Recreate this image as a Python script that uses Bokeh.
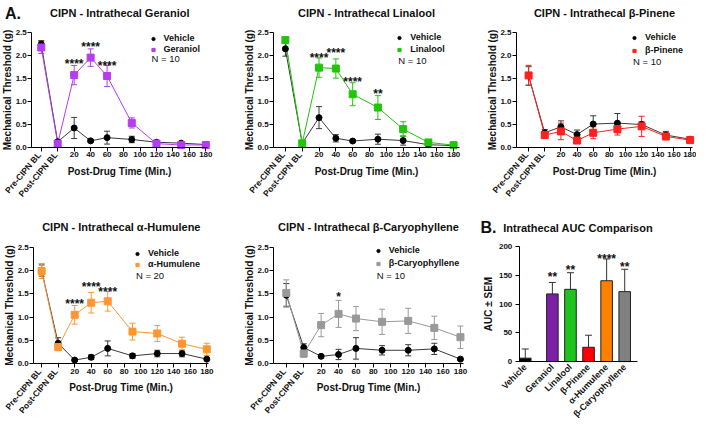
import math
from bokeh.plotting import figure
from bokeh.models import (ColumnDataSource, Whisker, TeeHead, Label, Legend, LegendItem,
                          FixedTicker, Range1d, NumeralTickFormatter)
from bokeh.layouts import row, column
from bokeh.embed import file_html
from bokeh.resources import INLINE
from bokeh.core.properties import value

FONT = "Liberation Sans"
INK = "#111111"

# ---------------- data ----------------
baseline_labels = ["Pre-CIPN BL", "Post-CIPN BL"]
time_x = [-20, 0, 20, 40, 60, 90, 120, 150, 180]   # -20 / 0 = baseline slots
time_ticks = [-20, 0, 20, 40, 60, 80, 100, 120, 140, 160, 180]
y_ticks = [0, 0.5, 1.0, 1.5, 2.0, 2.5]

ger_veh_mean = [2.24, 0.12, 0.42, 0.14, 0.21, 0.17, 0.11, 0.09, 0.06]
ger_veh_sem = [0.08, 0.03, 0.23, 0.03, 0.14, 0.07, 0.03, 0.03, 0.02]
ger_mean = [2.17, 0.08, 1.57, 1.95, 1.55, 0.53, 0.08, 0.05, 0.05]
ger_sem = [0.13, 0.03, 0.21, 0.19, 0.23, 0.11, 0.02, 0.02, 0.02]
ger_star_x = [20, 40, 60]
ger_star_y = [1.94, 2.32, 1.91]
ger_star_t = ["****", "****", "****"]

lin_veh_mean = [2.14, 0.08, 0.64, 0.19, 0.13, 0.17, 0.14, 0.05, 0.03]
lin_veh_sem = [0.16, 0.02, 0.24, 0.08, 0.03, 0.11, 0.10, 0.02, 0.02]
lin_mean = [2.33, 0.08, 1.73, 1.71, 1.15, 0.86, 0.39, 0.10, 0.04]
lin_sem = [0.05, 0.02, 0.21, 0.21, 0.25, 0.26, 0.16, 0.03, 0.02]
lin_star_x = [20, 40, 60, 90]
lin_star_y = [2.07, 2.19, 1.55, 1.30]
lin_star_t = ["****", "****", "****", "**"]

pin_veh_mean = [1.55, 0.31, 0.44, 0.27, 0.50, 0.52, 0.49, 0.26, 0.17]
pin_veh_sem = [0.20, 0.07, 0.13, 0.10, 0.18, 0.21, 0.06, 0.08, 0.03]
pin_mean = [1.56, 0.26, 0.34, 0.14, 0.31, 0.39, 0.45, 0.23, 0.15]
pin_sem = [0.22, 0.06, 0.18, 0.05, 0.13, 0.13, 0.22, 0.07, 0.03]

hum_veh_mean = [2.00, 0.44, 0.08, 0.14, 0.33, 0.17, 0.22, 0.22, 0.10]
hum_veh_sem = [0.12, 0.12, 0.02, 0.05, 0.16, 0.05, 0.07, 0.07, 0.02]
hum_mean = [1.99, 0.36, 1.05, 1.31, 1.34, 0.69, 0.65, 0.43, 0.31]
hum_sem = [0.16, 0.08, 0.20, 0.22, 0.21, 0.18, 0.17, 0.14, 0.13]
hum_star_x = [20, 40, 60]
hum_star_y = [1.41, 1.79, 1.67]
hum_star_t = ["****", "****", "****"]

car_veh_mean = [1.47, 0.35, 0.16, 0.20, 0.33, 0.29, 0.29, 0.32, 0.10]
car_veh_sem = [0.25, 0.08, 0.04, 0.11, 0.23, 0.10, 0.12, 0.12, 0.02]
car_mean = [1.52, 0.22, 0.83, 1.07, 0.97, 0.90, 0.92, 0.77, 0.57]
car_sem = [0.28, 0.08, 0.25, 0.29, 0.26, 0.27, 0.27, 0.25, 0.24]
car_star_x = [40]
car_star_y = [1.56]
car_star_t = ["*"]

auc_groups = ["Vehicle", "Geraniol", "Linalool", "β-Pinene", "α-Humulene", "β-Caryophyllene"]
auc_mean = [6, 118, 126, 25, 141, 122]
auc_sem = [16, 20, 29, 21, 38, 39]
auc_star_groups = ["Geraniol", "Linalool", "α-Humulene", "β-Caryophyllene"]
auc_star_y = [158, 171, 190, 176]
auc_star_t = ["**", "**", "****", "**"]
auc_ticks = [0, 50, 100, 150, 200]

# ---------------- styling ----------------
VEH_MARK = "#000000"
VEH_LINE = "#3a3a3a"
COL_GER = "#b53df0"
COL_LIN = "#22c40c"
COL_PIN = "#ff2020"
COL_HUM = "#ff9633"
COL_CAR = "#999999"
BAR_COLORS = ["#000000", "#7d1fa5", "#1ec41e", "#ff0000", "#ff8000", "#808080"]
BASE_ANGLE = math.radians(50)


def make_fig(W, H, L, R, T, B, xr, yr):
    """Figure whose frame is the whole canvas; (L,R,T,B) is the drawn plot box."""
    x0, x1 = xr
    y0, y1 = yr
    sx = (x1 - x0) / (R - L)
    sy = (y1 - y0) / (B - T)
    p = figure(width=W, height=H, min_border=0, title=None,
               x_range=Range1d(x0 - L * sx, x0 + (W - L) * sx),
               y_range=Range1d(y1 - (H - T) * sy, y1 + T * sy),
               output_backend="svg", toolbar_location=None)
    p.grid.visible = False
    p.outline_line_color = None
    p.background_fill_color = "white"
    p.border_fill_color = "white"
    p.xaxis.fixed_location = y0
    p.xaxis.bounds = (x0, x1)
    p.yaxis.fixed_location = x0
    p.yaxis.bounds = (y0, y1)
    for ax in p.axis:
        ax.axis_line_color = "black"
        ax.axis_line_width = 1
        ax.major_tick_line_color = "black"
        ax.major_tick_out = 4
        ax.major_tick_in = 0
        ax.minor_tick_line_color = None
        ax.major_label_text_font = FONT
        ax.major_label_text_font_size = "8px"
        ax.major_label_text_font_style = "bold"
        ax.major_label_text_color = INK
        ax.major_label_standoff = 1
        ax.axis_label_text_font = FONT
        ax.axis_label_text_font_size = "10px"
        ax.axis_label_text_font_style = "bold"
        ax.axis_label_text_color = INK
        ax.axis_label_standoff = 5
    fx = lambda px: x0 + (px - L) * sx
    fy = lambda py: y1 - (py - T) * sy
    return p, fx, fy, sy


def text_label(p, x, y, text, size, bold=True, align="center", angle=0.0):
    p.add_layout(Label(x=x, y=y, text=text, angle=angle, text_align=align,
                       text_baseline="middle", text_font=FONT, text_font_size=size,
                       text_font_style="bold" if bold else "normal", text_color=INK))


def line_panel(title, drug, color, vm, vs, dm, ds, n_text, stx, sty, stt, W, H, box, xr,
               mk, r1, ny, ty, spacing, letter=None):
    L, R, T, B = box
    p, fx, fy, sy = make_fig(W, H, L, R, T, B, xr, (0.0, 2.5))
    p.xaxis.ticker = FixedTicker(ticks=time_ticks)
    p.xaxis.major_label_overrides = {-20: "", 0: ""}
    p.xaxis.axis_label = "Post-Drug Time (Min.)"
    p.yaxis.ticker = FixedTicker(ticks=y_ticks)
    p.yaxis.formatter = NumeralTickFormatter(format="0.0")
    p.yaxis.axis_label = "Mechanical Threshold (g)"
    p.yaxis.axis_label_standoff = -1

    vsrc = ColumnDataSource(dict(x=time_x, m=vm, lo=[a - b for a, b in zip(vm, vs)],
                                 hi=[a + b for a, b in zip(vm, vs)]))
    dsrc = ColumnDataSource(dict(x=time_x, m=dm, lo=[a - b for a, b in zip(dm, ds)],
                                 hi=[a + b for a, b in zip(dm, ds)]))
    p.line("x", "m", source=vsrc, line_color=VEH_LINE, line_width=1)
    p.line("x", "m", source=dsrc, line_color=color, line_width=1)
    for src, c in ((vsrc, VEH_LINE), (dsrc, color)):
        p.add_layout(Whisker(source=src, base="x", upper="hi", lower="lo", line_color=c,
                             line_width=1,
                             upper_head=TeeHead(size=6, line_color=c, line_width=1),
                             lower_head=TeeHead(size=6, line_color=c, line_width=1)))
    rv = p.scatter("x", "m", source=vsrc, marker="circle", size=6, fill_color=VEH_MARK,
                   line_color=VEH_MARK)
    rd = p.scatter("x", "m", source=dsrc, marker="square", size=7, fill_color=color,
                   line_color=color)

    if stx:
        p.text(x=stx, y=[v - 6.2 * sy for v in sty], text=stt, text_align="center",
               text_baseline="alphabetic", text_font=value(FONT), text_font_style="bold",
               text_font_size="12px", text_color=INK)

    item_h = 11
    pad = 2
    box_top = r1 - item_h / 2 - pad
    box_h = 2 * item_h + spacing + 2 * pad
    leg = Legend(items=[LegendItem(label="Vehicle", renderers=[rv]),
                        LegendItem(label=drug, renderers=[rd])],
                 location=(mk - 4 - pad, H - (box_top + box_h)), label_text_font=FONT,
                 label_text_font_style="bold", label_text_font_size="9px",
                 label_text_color=INK, glyph_width=8, glyph_height=item_h,
                 label_height=item_h, label_standoff=7, spacing=spacing, padding=pad,
                 margin=0, border_line_color=None, background_fill_alpha=0)
    p.add_layout(leg)
    text_label(p, fx(mk - 3.5), fy(ny), n_text, "9.5px", bold=False, align="left")

    text_label(p, fx((L + R) / 2), fy(ty), title, "11px")
    for xv, lab in zip(time_x[:2], baseline_labels):
        p.add_layout(Label(x=xv, y=fy(B + 6), x_offset=-2, text=lab, angle=BASE_ANGLE,
                           text_align="right", text_baseline="middle", text_font=FONT,
                           text_font_size="8.5px", text_font_style="bold", text_color=INK))
    if letter:
        text_label(p, fx(4.5), fy(ty), letter, "16px", align="left")
    return p


p1 = line_panel("CIPN - Intrathecal Geraniol", "Geraniol", COL_GER, ger_veh_mean, ger_veh_sem,
                ger_mean, ger_sem, "N = 10", ger_star_x, ger_star_y, ger_star_t,
                235, 212, (31.3, 207.3, 31.8, 146.8), (-31.5, 182.4), 154.5, 36.3, 57.8, 12.5,
                0, letter="A.")
p2 = line_panel("CIPN - Intrathecal Linalool", "Linalool", COL_LIN, lin_veh_mean, lin_veh_sem,
                lin_mean, lin_sem, "N = 10", lin_star_x, lin_star_y, lin_star_t,
                235, 212, (38.1, 224.0, 31.8, 146.5), (-34, 187), 166.3, 35.4, 59.7, 12.5, 1)
p3 = line_panel("CIPN - Intrathecal β-Pinene", "β-Pinene", COL_PIN, pin_veh_mean, pin_veh_sem,
                pin_mean, pin_sem, "N = 10", [], [], [],
                226, 212, (46.0, 222.0, 31.8, 146.5), (-35, 183), 166.0, 35.4, 61.0, 12.5, 2)
p4 = line_panel("CIPN - Intrathecal α-Humulene", "α-Humulene", COL_HUM, hum_veh_mean,
                hum_veh_sem, hum_mean, hum_sem, "N = 20", hum_star_x, hum_star_y, hum_star_t,
                235, 212, (33.3, 208.3, 34.7, 151.3), (-29.5, 182.4), 138.9, 39.2, 62.6, 14.5, 0)
p5 = line_panel("CIPN - Intrathecal β-Caryophyllene", "β-Caryophyllene", COL_CAR, car_veh_mean,
                car_veh_sem, car_mean, car_sem, "N = 10", car_star_x, car_star_y, car_star_t,
                244, 212, (38.1, 227.9, 34.7, 151.3), (-34.6, 183.4), 144.7, 36.3, 62.6, 14.5,
                2)

# ---------------- AUC bar panel ----------------
bar_x = [0.0] + [i + 0.5 for i in range(1, len(auc_groups))]   # gap after Vehicle
BL, BR, BT, BB = 39.8, 157.5, 34.4, 149.1
p6, bfx, bfy, bsy = make_fig(225, 212, BL, BR, BT, BB, (-0.33, bar_x[-1] + 0.68), (0, 200))
p6.yaxis.ticker = FixedTicker(ticks=auc_ticks)
p6.yaxis.axis_label = "AUC ± SEM"
p6.yaxis.major_label_standoff = 3
p6.yaxis.axis_label_standoff = 2
p6.xaxis.ticker = FixedTicker(ticks=bar_x)
p6.xaxis.major_label_overrides = {x: g for x, g in zip(bar_x, auc_groups)}
p6.xaxis.major_label_orientation = math.pi / 4
p6.xaxis.major_label_text_font_size = "9px"
p6.xaxis.major_tick_out = 0
p6.xaxis.major_label_standoff = 4
bsrc = ColumnDataSource(dict(x=bar_x, top=auc_mean, hi=[a + b for a, b in zip(auc_mean, auc_sem)],
                             color=BAR_COLORS))
p6.vbar(x="x", top="top", width=0.64, source=bsrc, fill_color="color", line_color="#222222",
        line_width=1)
p6.add_layout(Whisker(source=bsrc, base="x", lower="top", upper="hi", line_color="#333333",
                      line_width=1, lower_head=None,
                      upper_head=TeeHead(size=7, line_color="#333333", line_width=1)))
star_pos = [bar_x[auc_groups.index(g)] for g in auc_star_groups]
p6.text(x=star_pos, y=[v - 6.2 * bsy for v in auc_star_y], text=auc_star_t,
        text_align="center", text_baseline="alphabetic", text_font=value(FONT),
        text_font_style="bold", text_font_size="12px", text_color=INK)
text_label(p6, bfx((BL + BR) / 2), bfy(15.1), "Intrathecal AUC Comparison", "11px")
text_label(p6, bfx(1), bfy(15.1), "B.", "16px", align="left")

layout = column(row(p1, p2, p3), row(p4, p5, p6))
open("out.html", "w").write(file_html(layout, INLINE, title="CIPN intrathecal terpenes"))
